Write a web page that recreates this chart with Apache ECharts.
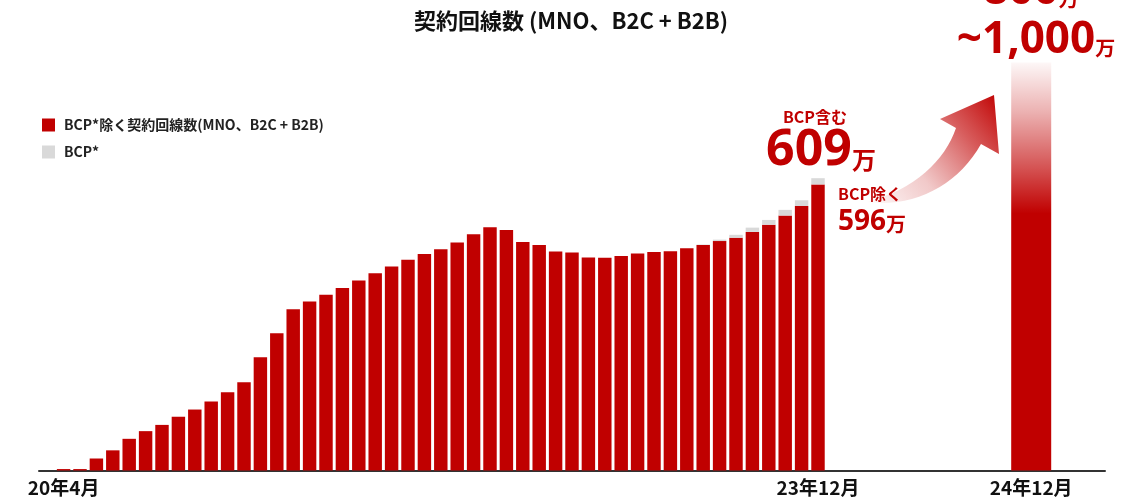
<!DOCTYPE html>
<html>
<head>
<meta charset="utf-8">
<script src="https://cdn.jsdelivr.net/npm/echarts@6/dist/echarts.min.js"></script>
<style>
html,body{margin:0;padding:0;background:#fff;}
#main{width:1147px;height:499px;}
</style>
</head>
<body>
<div id="main"></div>
<script>
// x-axis slots (65): one empty lead slot, 47 monthly bars, gap, target bar, tail slots
const tickLabels = [
  '', '20年4月', '', '', '', '', '', '', '', '', '', '', '', '', '', '', '', '', '', '', '',
  '', '', '', '', '', '', '', '', '', '', '', '', '', '', '', '', '', '', '', '',
  '', '', '', '', '', '', '23年12月',
  '', '', '', '', '', '', '', '', '', '', '', '',
  '24年12月', '', '', '', ''
];
// 契約回線数 excluding BCP (万), monthly from 20年4月 to 23年12月
const excludingBCP = [
  3, 3, 25, 42, 66, 82, 95, 112, 127, 144,
  163, 184, 236, 286, 336, 352, 366, 380, 396, 411,
  425, 439, 451, 461, 475, 492, 507, 501, 476, 470,
  456, 454, 444, 443, 447, 452, 455, 457, 463, 470,
  478, 485, 497, 512, 531, 551, 596
];
// BCP portion (万)
const bcpOnly = [
  0, 0, 0, 0, 0, 0, 0, 0, 0, 0,
  0, 0, 0, 0, 0, 0, 0, 0, 0, 0,
  0, 0, 0, 0, 0, 0, 0, 0, 0, 0,
  0, 0, 0, 0, 0, 0, 0, 0, 0, 1,
  3, 6, 9, 10, 12, 12, 13
];
const firstBarSlot = 1;
const targetSlot = 60;
const targetValue = 850; // 24年12月 target (800万~1,000万)

const RED = '#c00000';
const GRAY = '#d9d9d9';
const CJK = "'Noto Sans CJK JP', 'Noto Sans', sans-serif";
const NUM = "'Noto Sans', 'Noto Sans CJK JP', sans-serif";

function slotData(vals, offset) {
  const out = tickLabels.map(() => '-');
  vals.forEach((v, i) => { out[offset + i] = v; });
  return out;
}
const redData = slotData(excludingBCP, firstBarSlot);
const grayData = slotData(bcpOnly, firstBarSlot);
const targetData = slotData([targetValue], targetSlot);

// curved arrow decoration
const ArrowShape = echarts.graphic.extendShape({
  shape: {},
  buildPath: function (ctx) {
    ctx.moveTo(994, 95);
    ctx.lineTo(940, 119);
    ctx.lineTo(956, 128);
    ctx.bezierCurveTo(945, 160, 915, 190, 866, 202);
    ctx.bezierCurveTo(915, 208, 958, 185, 981, 144);
    ctx.lineTo(999, 154);
    ctx.closePath();
  }
});
echarts.graphic.registerShape('curvedArrow', ArrowShape);

const chart = echarts.init(document.getElementById('main'), null, {renderer: 'canvas'});
const option = {
  animation: false,
  backgroundColor: '#fff',
  title: {
    text: '契約回線数 (MNO、B2C + B2B)',
    left: 566, textAlign: 'center', top: 5,
    textStyle: {fontFamily: CJK, fontSize: 22, fontWeight: 'bold', color: '#111'}
  },
  legend: {
    data: ['BCP*除く契約回線数(MNO、B2C + B2B)', 'BCP*'],
    orient: 'vertical', left: 37, top: 113,
    itemWidth: 13, itemHeight: 13, itemGap: 13, icon: 'rect',
    textStyle: {fontFamily: CJK, fontSize: 14, fontWeight: 'bold', color: '#222', padding: [0, 0, 0, 4]}
  },
  grid: {left: 39, right: 42, top: 38.5, bottom: 28.5, containLabel: false},
  xAxis: [{
    type: 'category', data: tickLabels,
    axisLine: {lineStyle: {color: '#333', width: 2}},
    axisTick: {show: false},
    axisLabel: {interval: 0, margin: 8, fontFamily: CJK, fontSize: 19, fontWeight: 'bold', color: '#111'}
  }, {
    type: 'category', data: tickLabels, show: false
  }],
  yAxis: {type: 'value', min: 0, max: 900, show: false, splitLine: {show: false}},
  series: [{
    name: 'BCP*除く契約回線数(MNO、B2C + B2B)', type: 'bar', stack: 'a',
    barWidth: '82%', data: redData, itemStyle: {color: RED}
  }, {
    name: 'BCP*', type: 'bar', stack: 'a',
    barWidth: '82%', data: grayData, itemStyle: {color: GRAY}
  }, {
    name: 'target', type: 'bar', xAxisIndex: 1, barWidth: 40, data: targetData,
    itemStyle: {color: {type: 'linear', x: 0, y: 0, x2: 0, y2: 1, colorStops: [
      {offset: 0, color: 'rgba(192,0,0,0.03)'},
      {offset: 0.12, color: 'rgba(192,0,0,0.3)'},
      {offset: 0.26, color: 'rgba(192,0,0,0.68)'},
      {offset: 0.37, color: RED},
      {offset: 1, color: RED}
    ]}}
  }],
  graphic: [
    {type: 'curvedArrow', shape: {},
     style: {fill: {type: 'linear', x: 0, y: 1, x2: 1, y2: 0, colorStops: [
       {offset: 0, color: 'rgba(192,0,0,0)'},
       {offset: 0.35, color: 'rgba(200,40,40,0.25)'},
       {offset: 0.7, color: 'rgba(200,30,30,0.72)'},
       {offset: 1, color: RED}
     ]}}},
    {type: 'text', style: {text: 'BCP含む', x: 815, y: 117, textAlign: 'center', textVerticalAlign: 'middle',
      fill: RED, font: 'bold 16px ' + CJK}},
    {type: 'text', style: {text: '{a|609}{b|万}', x: 821, y: 151, textAlign: 'center', textVerticalAlign: 'middle',
      rich: {a: {fontFamily: NUM, fontSize: 50, fontWeight: 'bold', fill: RED},
             b: {fontFamily: CJK, fontSize: 24, fontWeight: 'bold', fill: RED, verticalAlign: 'bottom', padding: [0, 0, 4, 0]}}}},
    {type: 'text', style: {text: 'BCP除く', x: 838, y: 194, textAlign: 'left', textVerticalAlign: 'middle',
      fill: RED, font: 'bold 16px ' + CJK}},
    {type: 'text', style: {text: '{a|596}{b|万}', x: 838, y: 222, textAlign: 'left', textVerticalAlign: 'middle',
      rich: {a: {fontFamily: NUM, fontSize: 28, fontWeight: 'bold', fill: RED},
             b: {fontFamily: CJK, fontSize: 20, fontWeight: 'bold', fill: RED, verticalAlign: 'bottom', padding: [0, 0, 2, 0]}}}},
    {type: 'text', style: {text: '{a|800}{b|万}', x: 1031, y: -9, textAlign: 'center', textVerticalAlign: 'middle',
      rich: {a: {fontFamily: NUM, fontSize: 44, fontWeight: 'bold', fill: RED},
             b: {fontFamily: CJK, fontSize: 20, fontWeight: 'bold', fill: RED, verticalAlign: 'bottom', padding: [0, 0, 4, 0]}}}},
    {type: 'text', style: {text: '{a|~1,000}{b|万}', x: 1036, y: 40, textAlign: 'center', textVerticalAlign: 'middle',
      rich: {a: {fontFamily: NUM, fontSize: 44, fontWeight: 'bold', fill: RED},
             b: {fontFamily: CJK, fontSize: 20, fontWeight: 'bold', fill: RED, verticalAlign: 'bottom', padding: [0, 0, 4, 0]}}}}
  ]
};
chart.setOption(option);
</script>
</body>
</html>
